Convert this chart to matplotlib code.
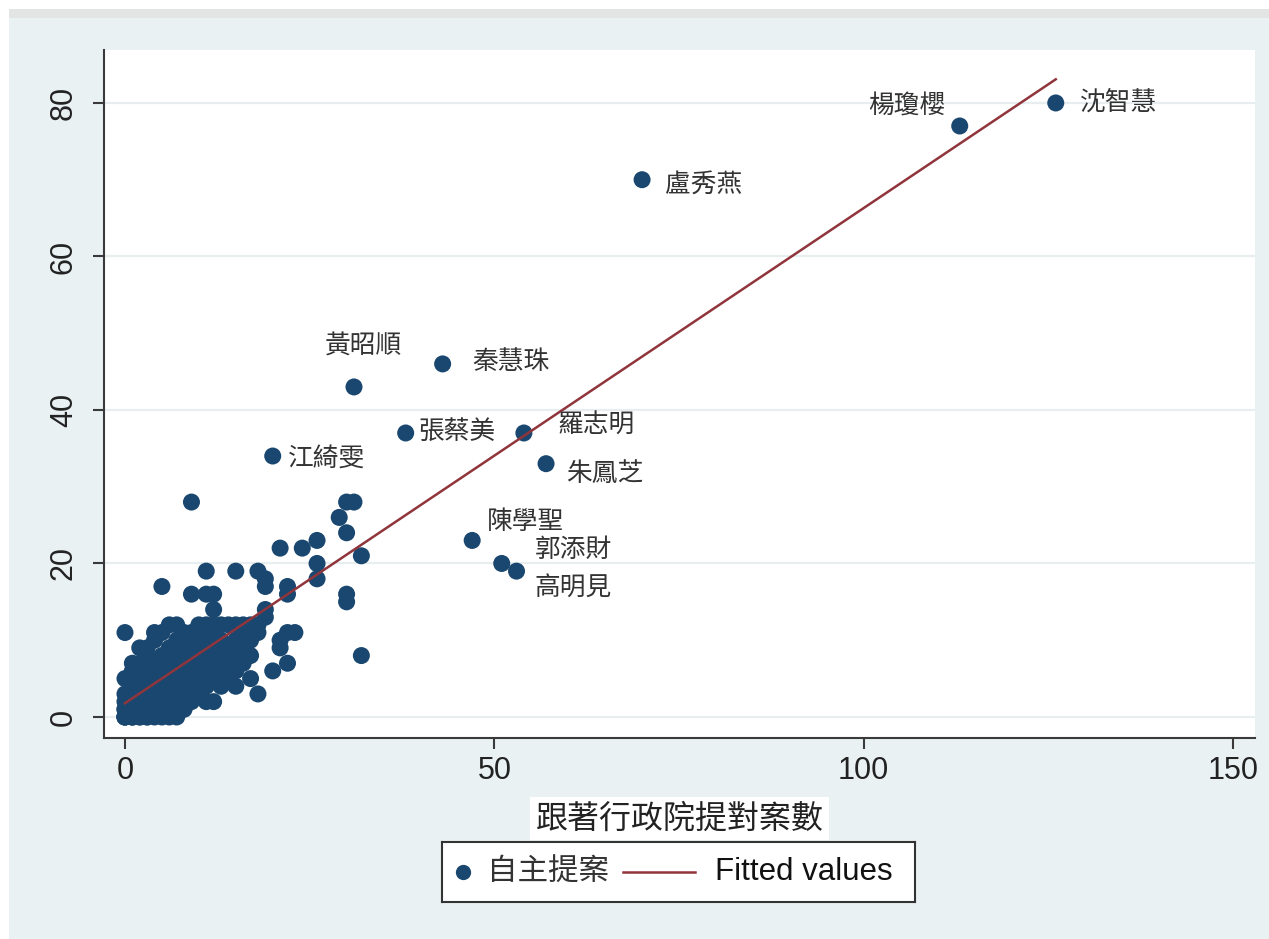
import numpy as np
import matplotlib
matplotlib.use('Agg')
import matplotlib.pyplot as plt
from matplotlib.patches import Rectangle
from matplotlib.lines import Line2D

plt.rcParams['font.family'] = ['Liberation Sans', 'DejaVu Sans']
CJK = ['Noto Sans CJK TC', 'DejaVu Sans']

NAVY = '#1a476f'
MAROON = '#90353b'
BG = '#eaf1f3'

# legislators with a name label
names = ['沈智慧', '楊瓊櫻', '盧秀燕', '秦慧珠', '黃昭順', '張蔡美',
         '羅志明', '朱鳳芝', '江綺雯', '陳學聖', '郭添財', '高明見']
name_x = [126, 113, 70, 43, 31, 38, 54, 57, 20, 47, 51, 53]
name_y = [80, 77, 70, 46, 43, 37, 37, 33, 34, 23, 20, 19]
# label offset in pixels and alignment
label_pos = [(24, 0, 'left'), (-14, 19, 'right'), (23, -5, 'left'),
             (30, 2, 'left'), (10, 40, 'center'), (13, 1, 'left'),
             (34, 7, 'left'), (20, -10, 'left'), (15, -3, 'left'),
             (15, 18, 'left'), (33, 13, 'left'), (18, -18, 'left')]

# everyone else: 跟著行政院提對案數 -> list of 自主提案 counts
others = {
    0: [0, 0, 0, 0, 1, 1, 2, 3, 5, 11],
    1: [0, 0, 0, 1, 1, 2, 4, 6, 7],
    2: [0, 0, 1, 1, 3, 5, 7, 9],
    3: [0, 0, 2, 2, 4, 6, 8, 9],
    4: [0, 1, 3, 5, 7, 10, 11],
    5: [0, 2, 4, 6, 8, 11, 17],
    6: [0, 1, 3, 5, 7, 9, 12],
    7: [0, 2, 4, 6, 8, 10, 12],
    8: [1, 3, 5, 7, 9, 11],
    9: [2, 4, 6, 8, 10, 11, 16, 28],
    10: [3, 5, 7, 9, 11, 12],
    11: [2, 4, 6, 8, 10, 12, 16, 19],
    12: [2, 5, 7, 9, 11, 12, 14, 16],
    13: [4, 6, 8, 10, 12],
    14: [5, 7, 9, 12],
    15: [4, 6, 8, 10, 12, 19],
    16: [7, 9, 11, 12],
    17: [5, 8, 10, 12],
    18: [3, 11, 12, 19],
    19: [13, 14, 17, 18],
    20: [6],
    21: [9, 10, 22],
    22: [7, 11, 16, 17],
    23: [11],
    24: [22],
    26: [18, 20, 23],
    29: [26],
    30: [15, 16, 24, 28],
    31: [28],
    32: [8, 21],
}
other_x = [x for x, ys in others.items() for _ in ys]
other_y = [y for ys in others.values() for y in ys]

all_x = np.array(other_x + name_x, dtype=float)
all_y = np.array(other_y + name_y, dtype=float)

# linear fit
slope, intercept = np.polyfit(all_x, all_y, 1)
fit_x = np.array([all_x.min(), all_x.max()])
fit_y = intercept + slope * fit_x

W, H = 1269, 939
fig = plt.figure(figsize=(W / 100, H / 100), dpi=100, facecolor='white')

# graph region background
fig.patches.append(Rectangle((9 / W, 0), 1, 1 - 18 / H, transform=fig.transFigure,
                             facecolor=BG, edgecolor='none', zorder=-10))
fig.patches.append(Rectangle((9 / W, 1 - 18 / H), 1, 9 / H, transform=fig.transFigure,
                             facecolor='#e3e4e4', edgecolor='none', zorder=-10))

ax = fig.add_axes([104 / W, 1 - 738 / H, (1255 - 104) / W, (738 - 50) / H])
ax.set_facecolor('white')

ax.scatter(all_x, all_y, s=150, color=NAVY, edgecolors='none', zorder=3)
ax.plot(fit_x, fit_y, color=MAROON, lw=1.8, zorder=4)

for n, x, y, (dx, dy, ha) in zip(names, name_x, name_y, label_pos):
    ax.annotate(n, (x, y), xytext=(dx, dy), textcoords='offset pixels',
                ha=ha, va='center', fontsize=18.5, color='#333333', family=CJK, zorder=5)

ax.set_xlim(-2.84, 152.97)
ax.set_ylim(-2.74, 86.9)
ax.set_xticks([0, 50, 100, 150])
ax.set_yticks([0, 20, 40, 60, 80])
ax.yaxis.grid(True, color='#e8eef0', lw=1.6, zorder=0)
ax.set_axisbelow(True)

for s in ['top', 'right']:
    ax.spines[s].set_visible(False)
for s in ['left', 'bottom']:
    ax.spines[s].set_color('#3a3a3a')
    ax.spines[s].set_linewidth(1.5)

ax.tick_params(axis='both', length=8, width=1.5, color='#3a3a3a',
               labelsize=22, labelcolor='#222222')
ax.tick_params(axis='x', pad=5)
ax.tick_params(axis='y', pad=10, labelrotation=90)
for lab in ax.get_yticklabels():
    lab.set_va('center')

ax.set_xlabel('跟著行政院提對案數', family=CJK, fontsize=23, color='#222222', labelpad=12,
              bbox=dict(facecolor='white', edgecolor='none', pad=4))

# legend box
lax = fig.add_axes([442 / W, 1 - 902 / H, (915 - 442) / W, 60 / H])
lax.set_xlim(0, 473)
lax.set_ylim(0, 60)
lax.set_xticks([])
lax.set_yticks([])
lax.set_facecolor('white')
for s in lax.spines.values():
    s.set_color('#333333')
    s.set_linewidth(1.5)
lax.add_line(Line2D([21], [30], marker='o', ms=11, color=NAVY, mec='none'))
lax.text(45, 30, '自主提案', family=CJK, fontsize=22, va='center', ha='left', color='#333333')
lax.add_line(Line2D([181, 253], [30, 30], color=MAROON, lw=1.8))
lax.text(273, 30, 'Fitted values', fontsize=22.5, va='center', ha='left', color='#111111')

fig.savefig('out.png', dpi=100, facecolor=fig.get_facecolor())
